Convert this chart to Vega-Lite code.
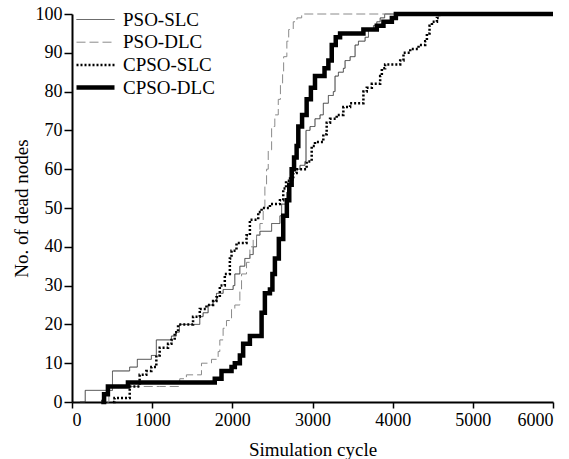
{
  "$schema": "https://vega.github.io/schema/vega-lite/v6.json",
  "width": 481,
  "height": 388,
  "autosize": "none",
  "padding": {"left": 72, "top": 14, "right": 16, "bottom": 57},
  "background": "white",
  "config": {
    "font": "Liberation Serif",
    "view": {"stroke": null},
    "axis": {
      "grid": false,
      "domainColor": "#000000",
      "domainWidth": 2,
      "tickColor": "#000000",
      "tickWidth": 1.5,
      "labelFont": "Liberation Serif",
      "labelFontSize": 18,
      "labelColor": "#000000",
      "titleFont": "Liberation Serif",
      "titleFontSize": 19,
      "titleFontWeight": "normal",
      "titleColor": "#000000"
    },
    "legend": {
      "orient": "none",
      "legendX": 2,
      "legendY": -4,
      "padding": 0,
      "labelFont": "Liberation Serif",
      "labelFontSize": 19,
      "labelColor": "#000000",
      "labelOffset": 6,
      "symbolType": "stroke",
      "symbolSize": 1444,
      "clipHeight": 19,
      "rowPadding": 2.7,
      "title": null
    }
  },
  "data": {
    "values": [
      {"s": "PSO-SLC", "x": 100, "y": 0},
      {"s": "PSO-SLC", "x": 165, "y": 3},
      {"s": "PSO-SLC", "x": 505, "y": 8},
      {"s": "PSO-SLC", "x": 719, "y": 9},
      {"s": "PSO-SLC", "x": 815, "y": 11},
      {"s": "PSO-SLC", "x": 990, "y": 12},
      {"s": "PSO-SLC", "x": 1052, "y": 16},
      {"s": "PSO-SLC", "x": 1240, "y": 17},
      {"s": "PSO-SLC", "x": 1302, "y": 18},
      {"s": "PSO-SLC", "x": 1340, "y": 20},
      {"s": "PSO-SLC", "x": 1594, "y": 22},
      {"s": "PSO-SLC", "x": 1635, "y": 23},
      {"s": "PSO-SLC", "x": 1698, "y": 25},
      {"s": "PSO-SLC", "x": 1760, "y": 26},
      {"s": "PSO-SLC", "x": 1802, "y": 28},
      {"s": "PSO-SLC", "x": 1885, "y": 29},
      {"s": "PSO-SLC", "x": 2010, "y": 30},
      {"s": "PSO-SLC", "x": 2031, "y": 33},
      {"s": "PSO-SLC", "x": 2094, "y": 35},
      {"s": "PSO-SLC", "x": 2156, "y": 37},
      {"s": "PSO-SLC", "x": 2219, "y": 38},
      {"s": "PSO-SLC", "x": 2260, "y": 40},
      {"s": "PSO-SLC", "x": 2302, "y": 43},
      {"s": "PSO-SLC", "x": 2344, "y": 44},
      {"s": "PSO-SLC", "x": 2490, "y": 46},
      {"s": "PSO-SLC", "x": 2594, "y": 48},
      {"s": "PSO-SLC", "x": 2615, "y": 51},
      {"s": "PSO-SLC", "x": 2677, "y": 54},
      {"s": "PSO-SLC", "x": 2720, "y": 57},
      {"s": "PSO-SLC", "x": 2760, "y": 60},
      {"s": "PSO-SLC", "x": 2844, "y": 61},
      {"s": "PSO-SLC", "x": 2906, "y": 62},
      {"s": "PSO-SLC", "x": 2919, "y": 70},
      {"s": "PSO-SLC", "x": 2969, "y": 71},
      {"s": "PSO-SLC", "x": 3031, "y": 73},
      {"s": "PSO-SLC", "x": 3094, "y": 74},
      {"s": "PSO-SLC", "x": 3135, "y": 77},
      {"s": "PSO-SLC", "x": 3198, "y": 79},
      {"s": "PSO-SLC", "x": 3260, "y": 80},
      {"s": "PSO-SLC", "x": 3281, "y": 84},
      {"s": "PSO-SLC", "x": 3323, "y": 85},
      {"s": "PSO-SLC", "x": 3385, "y": 86},
      {"s": "PSO-SLC", "x": 3406, "y": 88},
      {"s": "PSO-SLC", "x": 3469, "y": 89},
      {"s": "PSO-SLC", "x": 3531, "y": 92},
      {"s": "PSO-SLC", "x": 3573, "y": 93},
      {"s": "PSO-SLC", "x": 3656, "y": 94},
      {"s": "PSO-SLC", "x": 3698, "y": 96},
      {"s": "PSO-SLC", "x": 3760, "y": 97},
      {"s": "PSO-SLC", "x": 3802, "y": 98},
      {"s": "PSO-SLC", "x": 3844, "y": 99},
      {"s": "PSO-SLC", "x": 3900, "y": 100},
      {"s": "PSO-SLC", "x": 6000, "y": 100},

      {"s": "PSO-DLC", "x": 440, "y": 0},
      {"s": "PSO-DLC", "x": 460, "y": 4},
      {"s": "PSO-DLC", "x": 1094, "y": 4},
      {"s": "PSO-DLC", "x": 1344, "y": 6},
      {"s": "PSO-DLC", "x": 1427, "y": 7},
      {"s": "PSO-DLC", "x": 1615, "y": 10},
      {"s": "PSO-DLC", "x": 1740, "y": 11},
      {"s": "PSO-DLC", "x": 1823, "y": 13},
      {"s": "PSO-DLC", "x": 1844, "y": 16},
      {"s": "PSO-DLC", "x": 1885, "y": 19},
      {"s": "PSO-DLC", "x": 1927, "y": 21},
      {"s": "PSO-DLC", "x": 1990, "y": 24},
      {"s": "PSO-DLC", "x": 2031, "y": 25},
      {"s": "PSO-DLC", "x": 2094, "y": 29},
      {"s": "PSO-DLC", "x": 2115, "y": 33},
      {"s": "PSO-DLC", "x": 2177, "y": 36},
      {"s": "PSO-DLC", "x": 2219, "y": 40},
      {"s": "PSO-DLC", "x": 2260, "y": 42},
      {"s": "PSO-DLC", "x": 2302, "y": 43},
      {"s": "PSO-DLC", "x": 2344, "y": 46},
      {"s": "PSO-DLC", "x": 2385, "y": 50},
      {"s": "PSO-DLC", "x": 2406, "y": 56},
      {"s": "PSO-DLC", "x": 2427, "y": 60},
      {"s": "PSO-DLC", "x": 2448, "y": 65},
      {"s": "PSO-DLC", "x": 2490, "y": 71},
      {"s": "PSO-DLC", "x": 2530, "y": 74},
      {"s": "PSO-DLC", "x": 2573, "y": 78},
      {"s": "PSO-DLC", "x": 2600, "y": 82},
      {"s": "PSO-DLC", "x": 2627, "y": 85},
      {"s": "PSO-DLC", "x": 2640, "y": 89},
      {"s": "PSO-DLC", "x": 2680, "y": 93},
      {"s": "PSO-DLC", "x": 2703, "y": 96},
      {"s": "PSO-DLC", "x": 2760, "y": 98},
      {"s": "PSO-DLC", "x": 2806, "y": 99},
      {"s": "PSO-DLC", "x": 2865, "y": 100},
      {"s": "PSO-DLC", "x": 6000, "y": 100},

      {"s": "CPSO-SLC", "x": 510, "y": 0},
      {"s": "CPSO-SLC", "x": 530, "y": 1},
      {"s": "CPSO-SLC", "x": 720, "y": 4},
      {"s": "CPSO-SLC", "x": 844, "y": 7},
      {"s": "CPSO-SLC", "x": 927, "y": 8},
      {"s": "CPSO-SLC", "x": 990, "y": 9},
      {"s": "CPSO-SLC", "x": 1052, "y": 12},
      {"s": "CPSO-SLC", "x": 1094, "y": 14},
      {"s": "CPSO-SLC", "x": 1198, "y": 15},
      {"s": "CPSO-SLC", "x": 1240, "y": 16},
      {"s": "CPSO-SLC", "x": 1281, "y": 18},
      {"s": "CPSO-SLC", "x": 1323, "y": 20},
      {"s": "CPSO-SLC", "x": 1510, "y": 22},
      {"s": "CPSO-SLC", "x": 1594, "y": 24},
      {"s": "CPSO-SLC", "x": 1677, "y": 25},
      {"s": "CPSO-SLC", "x": 1760, "y": 26},
      {"s": "CPSO-SLC", "x": 1802, "y": 27},
      {"s": "CPSO-SLC", "x": 1844, "y": 30},
      {"s": "CPSO-SLC", "x": 1906, "y": 33},
      {"s": "CPSO-SLC", "x": 1969, "y": 37},
      {"s": "CPSO-SLC", "x": 1990, "y": 39},
      {"s": "CPSO-SLC", "x": 2052, "y": 41},
      {"s": "CPSO-SLC", "x": 2177, "y": 43},
      {"s": "CPSO-SLC", "x": 2219, "y": 47},
      {"s": "CPSO-SLC", "x": 2323, "y": 49},
      {"s": "CPSO-SLC", "x": 2365, "y": 50},
      {"s": "CPSO-SLC", "x": 2469, "y": 51},
      {"s": "CPSO-SLC", "x": 2594, "y": 52},
      {"s": "CPSO-SLC", "x": 2635, "y": 55},
      {"s": "CPSO-SLC", "x": 2670, "y": 57},
      {"s": "CPSO-SLC", "x": 2720, "y": 58},
      {"s": "CPSO-SLC", "x": 2760, "y": 59},
      {"s": "CPSO-SLC", "x": 2802, "y": 60},
      {"s": "CPSO-SLC", "x": 2927, "y": 62},
      {"s": "CPSO-SLC", "x": 2990, "y": 66},
      {"s": "CPSO-SLC", "x": 3031, "y": 67},
      {"s": "CPSO-SLC", "x": 3135, "y": 69},
      {"s": "CPSO-SLC", "x": 3177, "y": 72},
      {"s": "CPSO-SLC", "x": 3219, "y": 73},
      {"s": "CPSO-SLC", "x": 3302, "y": 74},
      {"s": "CPSO-SLC", "x": 3385, "y": 76},
      {"s": "CPSO-SLC", "x": 3469, "y": 77},
      {"s": "CPSO-SLC", "x": 3635, "y": 80},
      {"s": "CPSO-SLC", "x": 3677, "y": 81},
      {"s": "CPSO-SLC", "x": 3740, "y": 82},
      {"s": "CPSO-SLC", "x": 3844, "y": 84},
      {"s": "CPSO-SLC", "x": 3865, "y": 86},
      {"s": "CPSO-SLC", "x": 3906, "y": 87},
      {"s": "CPSO-SLC", "x": 4094, "y": 88},
      {"s": "CPSO-SLC", "x": 4135, "y": 90},
      {"s": "CPSO-SLC", "x": 4219, "y": 91},
      {"s": "CPSO-SLC", "x": 4323, "y": 92},
      {"s": "CPSO-SLC", "x": 4406, "y": 93},
      {"s": "CPSO-SLC", "x": 4427, "y": 95},
      {"s": "CPSO-SLC", "x": 4460, "y": 97},
      {"s": "CPSO-SLC", "x": 4490, "y": 98},
      {"s": "CPSO-SLC", "x": 4552, "y": 99},
      {"s": "CPSO-SLC", "x": 4580, "y": 100},
      {"s": "CPSO-SLC", "x": 6000, "y": 100},

      {"s": "CPSO-DLC", "x": 365, "y": 0},
      {"s": "CPSO-DLC", "x": 400, "y": 2},
      {"s": "CPSO-DLC", "x": 448, "y": 4},
      {"s": "CPSO-DLC", "x": 698, "y": 5},
      {"s": "CPSO-DLC", "x": 1781, "y": 6},
      {"s": "CPSO-DLC", "x": 1865, "y": 8},
      {"s": "CPSO-DLC", "x": 1990, "y": 9},
      {"s": "CPSO-DLC", "x": 2031, "y": 10},
      {"s": "CPSO-DLC", "x": 2094, "y": 12},
      {"s": "CPSO-DLC", "x": 2135, "y": 15},
      {"s": "CPSO-DLC", "x": 2219, "y": 17},
      {"s": "CPSO-DLC", "x": 2365, "y": 23},
      {"s": "CPSO-DLC", "x": 2406, "y": 28},
      {"s": "CPSO-DLC", "x": 2469, "y": 29},
      {"s": "CPSO-DLC", "x": 2500, "y": 33},
      {"s": "CPSO-DLC", "x": 2531, "y": 37},
      {"s": "CPSO-DLC", "x": 2580, "y": 42},
      {"s": "CPSO-DLC", "x": 2635, "y": 48},
      {"s": "CPSO-DLC", "x": 2680, "y": 52},
      {"s": "CPSO-DLC", "x": 2710, "y": 56},
      {"s": "CPSO-DLC", "x": 2740, "y": 60},
      {"s": "CPSO-DLC", "x": 2770, "y": 63},
      {"s": "CPSO-DLC", "x": 2802, "y": 66},
      {"s": "CPSO-DLC", "x": 2823, "y": 71},
      {"s": "CPSO-DLC", "x": 2870, "y": 74},
      {"s": "CPSO-DLC", "x": 2927, "y": 78},
      {"s": "CPSO-DLC", "x": 2980, "y": 81},
      {"s": "CPSO-DLC", "x": 3031, "y": 84},
      {"s": "CPSO-DLC", "x": 3150, "y": 86},
      {"s": "CPSO-DLC", "x": 3198, "y": 88},
      {"s": "CPSO-DLC", "x": 3240, "y": 92},
      {"s": "CPSO-DLC", "x": 3290, "y": 94},
      {"s": "CPSO-DLC", "x": 3344, "y": 95},
      {"s": "CPSO-DLC", "x": 3635, "y": 96},
      {"s": "CPSO-DLC", "x": 3802, "y": 97},
      {"s": "CPSO-DLC", "x": 3885, "y": 98},
      {"s": "CPSO-DLC", "x": 3990, "y": 99},
      {"s": "CPSO-DLC", "x": 4040, "y": 100},
      {"s": "CPSO-DLC", "x": 6000, "y": 100}
    ]
  },
  "mark": {"type": "line", "interpolate": "step-after", "clip": false},
  "encoding": {
    "x": {
      "field": "x",
      "type": "quantitative",
      "scale": {"domain": [0, 6000], "nice": false},
      "axis": {"values": [0, 1000, 2000, 3000, 4000, 5000, 6000], "title": "Simulation cycle", "tickSize": 6, "labelPadding": 3, "titlePadding": 11, "format": "d"}
    },
    "y": {
      "field": "y",
      "type": "quantitative",
      "scale": {"domain": [0, 100], "nice": false},
      "axis": {"values": [0, 10, 20, 30, 40, 50, 60, 70, 80, 90, 100], "title": "No. of dead nodes", "tickSize": 8, "labelPadding": 2, "titlePadding": 4}
    },
    "color": {
      "field": "s",
      "type": "nominal",
      "sort": ["PSO-SLC", "PSO-DLC", "CPSO-SLC", "CPSO-DLC"],
      "scale": {"type": "ordinal", "domain": ["PSO-SLC", "PSO-DLC", "CPSO-SLC", "CPSO-DLC"], "range": ["#3a3a3a", "#8a8a8a", "#000000", "#000000"]},
      "legend": {"title": null}
    },
    "strokeDash": {
      "field": "s",
      "type": "nominal",
      "sort": ["PSO-SLC", "PSO-DLC", "CPSO-SLC", "CPSO-DLC"],
      "scale": {"type": "ordinal", "domain": ["PSO-SLC", "PSO-DLC", "CPSO-SLC", "CPSO-DLC"], "range": [[1, 0], [9, 4], [2, 2], [1, 0]]},
      "legend": {"title": null}
    },
    "strokeWidth": {
      "field": "s",
      "type": "nominal",
      "sort": ["PSO-SLC", "PSO-DLC", "CPSO-SLC", "CPSO-DLC"],
      "scale": {"type": "ordinal", "domain": ["PSO-SLC", "PSO-DLC", "CPSO-SLC", "CPSO-DLC"], "range": [1, 1, 2.5, 4.5]},
      "legend": {"title": null}
    }
  }
}
